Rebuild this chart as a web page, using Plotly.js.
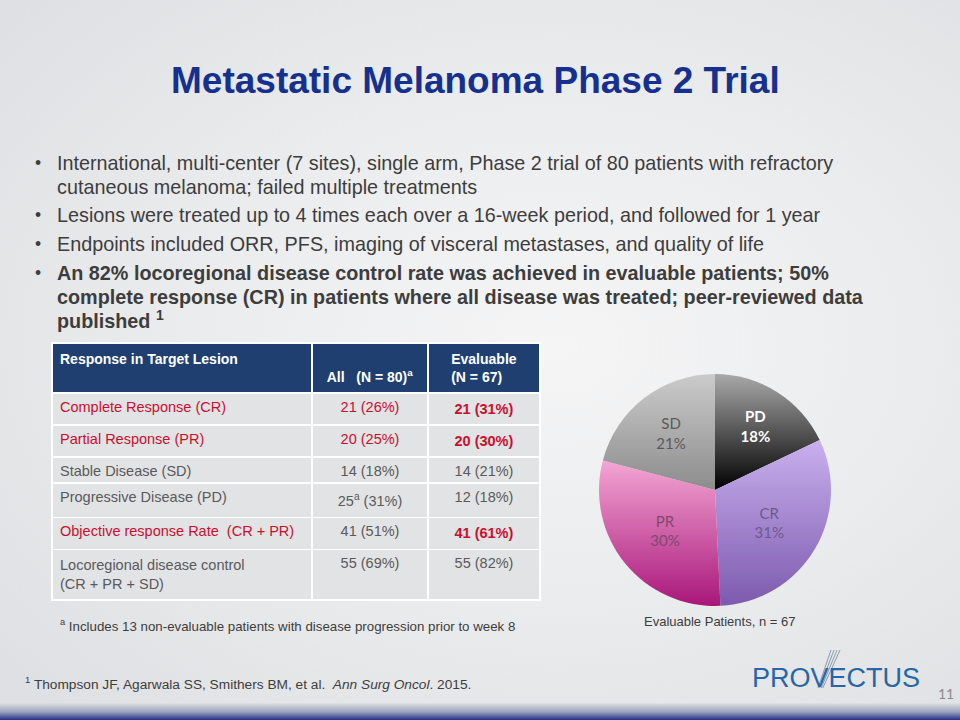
<!DOCTYPE html>
<html><head><meta charset="utf-8">
<script src="https://cdn.plot.ly/plotly-3.0.1.min.js"></script>
<style>
html,body{margin:0;padding:0;width:960px;height:720px;overflow:hidden;}
body{background:
 linear-gradient(to bottom, rgba(0,0,0,0) 0px, rgba(0,0,0,0) 703px, #d6d8de 704px, #9aa0bf 712px, #22308a 720px),
 radial-gradient(ellipse 75% 70% at 58% 48%, #f5f5f6 0%, #ebeced 50%, #dfe0e3 100%);}
#chart{width:960px;height:720px;}
</style></head><body><div id="chart"></div>
<script>
// ---- data ----
const titleText = "Metastatic Melanoma Phase 2 Trial";
const bulletLines = [
  ["International, multi-center (7 sites), single arm, Phase 2 trial of 80 patients with refractory",
   "cutaneous melanoma; failed multiple treatments"],
  ["Lesions were treated up to 4 times each over a 16-week period, and followed for 1 year"],
  ["Endpoints included ORR, PFS, imaging of visceral metastases, and quality of life"],
  ["An 82% locoregional disease control rate was achieved in evaluable patients; 50%",
   "complete response (CR) in patients where all disease was treated; peer-reviewed data",
   "published <sup>1</sup>"]
];
const bulletBold = [false, false, false, true];
const tableHeader = ["Response in Target Lesion", "\u00a0<br>All   (N = 80)<sup>a</sup>", "Evaluable<br>(N = 67)"];
const responseCategories = ["Complete Response (CR)", "Partial Response (PR)", "Stable Disease (SD)",
  "Progressive Disease (PD)", "Objective response Rate  (CR + PR)", "Locoregional disease control<br>(CR + PR + SD)"];
const allPatients = ["21 (26%)", "20 (25%)", "14 (18%)", "25<sup>a</sup> (31%)", "41 (51%)", "55 (69%)"];
const evaluablePatients = ["21 (31%)", "20 (30%)", "14 (21%)", "12 (18%)", "41 (61%)", "55 (82%)"];
const highlightCol1 = [true, true, false, false, true, false];
const highlightCol2 = [true, true, false, false, false, false];
const highlightCol3 = [true, true, false, false, true, false];
const pieLabels = ["PD", "CR", "PR", "SD"];
const pieCounts = [12, 21, 20, 14];
const pieCaption = "Evaluable Patients, n = 67";
const footnoteA = "<sup>a</sup> Includes 13 non-evaluable patients with disease progression prior to week 8";
const citation = "<sup>1</sup> Thompson JF, Agarwala SS, Smithers BM, et al.  <i>Ann Surg Oncol</i>. 2015.";
const logoText = "PROVECTUS";
const pageNumber = "11";

// ---- helpers ----
const W = 960, H = 720;
const px = x => x / W;
const py = y => 1 - y / H;
const RED = "#c8102e", GRAY = "#5a5a5a", TXT = "#3d3d3d";
const FONT = "Liberation Sans, Arial, sans-serif";

const col3Text = evaluablePatients.map((t, i) => highlightCol3[i] ? "<b>" + t + "</b>" : t);
const colColors = [
  highlightCol1.map(h => h ? RED : GRAY),
  highlightCol2.map(h => h ? RED : GRAY),
  highlightCol3.map(h => h ? RED : GRAY)
];

const table = {
  type: "table",
  domain: {x: [px(52), px(540)], y: [py(640), py(343)]},
  columnwidth: [260, 116, 112],
  header: {
    values: tableHeader.map(t => "<b>" + t + "</b>"),
    align: ["left", "center", "center"],
    fill: {color: "#1f3f70"},
    line: {color: "#ffffff", width: 1.5},
    font: {family: FONT, size: 14, color: "#ffffff"},
    height: 50
  },
  cells: {
    values: [responseCategories, allPatients, col3Text],
    align: ["left", "center", "center"],
    fill: {color: "#e2e3e5"},
    line: {color: "#ffffff", width: 1.5},
    font: {family: FONT, size: 14.5, color: colColors},
    height: 26
  }
};

const pieTextColors = ["#ffffff", "#6b5a8c", "#7d4a70", "#5a5a5a"];
const pie = {
  type: "pie",
  labels: pieLabels,
  values: pieCounts,
  sort: false,
  direction: "clockwise",
  rotation: 0,
  domain: {x: [px(599), px(831)], y: [py(606), py(374)]},
  marker: {colors: ["#505050", "#a48ad2", "#d766aa", "#adadad"], line: {width: 0}},
  texttemplate: pieLabels.map(l => l === "PD" ? "<b>%{label}<br>%{percent:.0%}</b>" : "%{label}<br>%{percent:.0%}"),
  textposition: "inside",
  insidetextorientation: "horizontal",
  textfont: {family: "Lato, Open Sans, sans-serif", size: 15, color: pieTextColors},
  hoverinfo: "none",
  showlegend: false
};

const ann = [];
ann.push({text: "<b>" + titleText + "</b>", x: px(475), y: py(80), xref: "paper", yref: "paper",
  xanchor: "center", yanchor: "middle", showarrow: false,
  font: {family: FONT, size: 37, color: "#15308e"}});
const lineY = [[163, 187], [215], [244], [273, 297, 319]];
bulletLines.forEach((lines, i) => {
  lines.forEach((t, j) => {
    ann.push({text: bulletBold[i] ? "<b>" + t + "</b>" : t, x: px(55), y: py(lineY[i][j]), xref: "paper", yref: "paper",
      xanchor: "left", yanchor: "middle", align: "left", showarrow: false,
      font: {family: FONT, size: 19.8, color: TXT}});
  });
  ann.push({text: "•", x: px(33), y: py(lineY[i][0]), xref: "paper", yref: "paper",
    xanchor: "left", yanchor: "middle", showarrow: false,
    font: {family: FONT, size: 17.5, color: TXT}});
});
ann.push({text: footnoteA, x: px(58), y: py(625), xref: "paper", yref: "paper",
  xanchor: "left", yanchor: "middle", showarrow: false, font: {family: FONT, size: 13.3, color: TXT}});
ann.push({text: pieCaption, x: px(719), y: py(621), xref: "paper", yref: "paper",
  xanchor: "center", yanchor: "middle", showarrow: false, font: {family: FONT, size: 13, color: TXT}});
ann.push({text: citation, x: px(23), y: py(683), xref: "paper", yref: "paper",
  xanchor: "left", yanchor: "middle", showarrow: false, font: {family: FONT, size: 13.7, color: TXT}});
ann.push({text: logoText, x: px(750), y: py(678), xref: "paper", yref: "paper",
  xanchor: "left", yanchor: "middle", showarrow: false, font: {family: FONT, size: 27, color: "#2467aa"}});
ann.push({text: pageNumber, x: px(946), y: py(693), xref: "paper", yref: "paper",
  xanchor: "center", yanchor: "middle", showarrow: false, font: {family: "Lato, sans-serif", size: 14, color: "#8a8a8a"}});

const shapes = [];
for (let i = 0; i < 4; i++) {
  shapes.push({type: "line", xref: "paper", yref: "paper",
    x0: px(818 + i * 1.6), y0: py(688), x1: px(831 + i * 3), y1: py(650),
    line: {color: "#8a9bb0", width: 1}});
}

const layout = {
  width: W, height: H,
  margin: {l: 0, r: 0, t: 0, b: 0},
  paper_bgcolor: "rgba(0,0,0,0)",
  plot_bgcolor: "rgba(0,0,0,0)",
  annotations: ann,
  shapes: shapes,
  showlegend: false
};

Plotly.newPlot("chart", [table, pie], layout, {displayModeBar: false, staticPlot: true}).then(gd => {
  const svg = gd.querySelector("svg.main-svg");
  let defs = svg.querySelector("defs");
  const ns = "http://www.w3.org/2000/svg";
  const grads = [["#a9a9a9", "#000000"], ["#c9b0ee", "#7c5aae"], ["#f4a6d4", "#a8177a"], ["#cbcbcc", "#8c8c8c"]];
  grads.forEach((g, i) => {
    const lg = document.createElementNS(ns, "linearGradient");
    lg.setAttribute("id", "pg" + i);
    lg.setAttribute("x1", "0"); lg.setAttribute("y1", "0");
    lg.setAttribute("x2", "0"); lg.setAttribute("y2", "1");
    [[0, g[0]], [1, g[1]]].forEach(s => {
      const st = document.createElementNS(ns, "stop");
      st.setAttribute("offset", s[0]);
      st.setAttribute("stop-color", s[1]);
      lg.appendChild(st);
    });
    defs.appendChild(lg);
  });
  gd.querySelectorAll(".pielayer .slice path.surface").forEach((p, i) => {
    p.style.fill = "url(#pg" + i + ")";
  });
});
</script></body></html>
